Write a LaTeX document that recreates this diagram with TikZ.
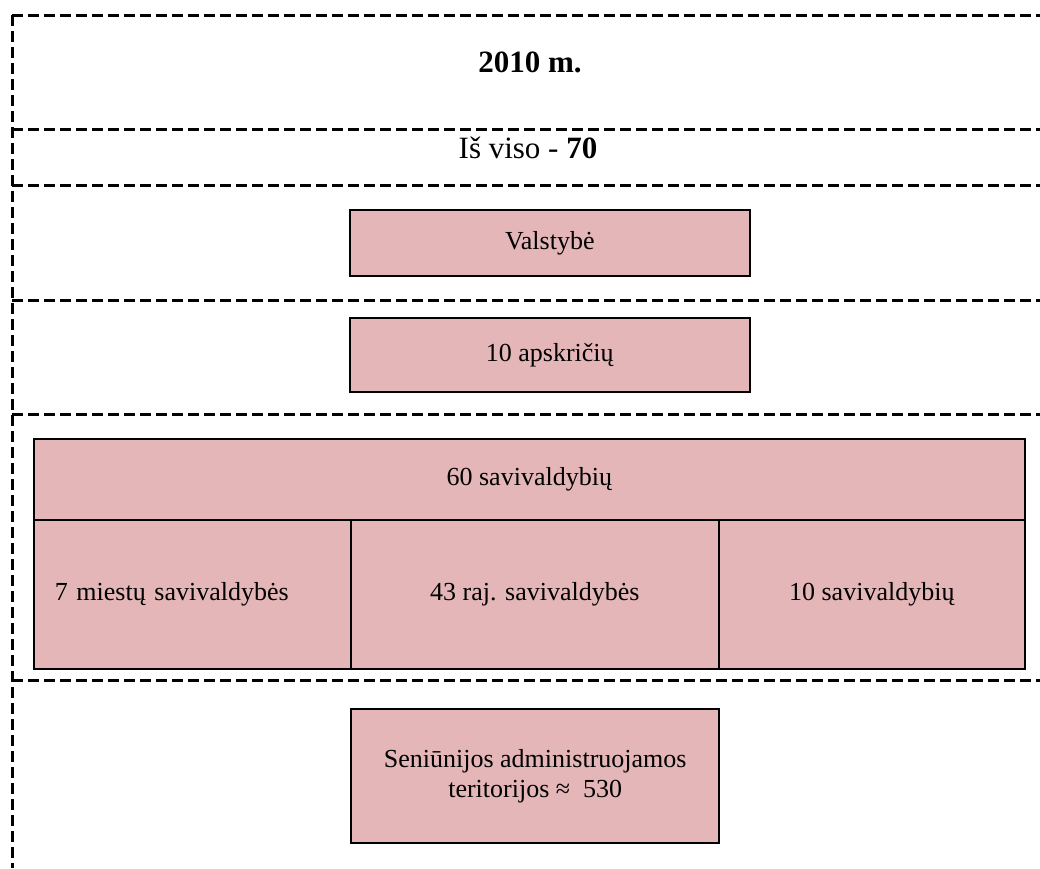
\documentclass[tikz,border=0pt]{standalone}
\usepackage{fontspec}
\setmainfont{Liberation Serif}
\definecolor{boxfill}{RGB}{228,182,183}
\begin{document}
\begin{tikzpicture}[x=1pt,y=-1pt,
  sep/.style={line width=3pt,dash pattern=on 11pt off 5pt},
  cell/.style={draw=black,fill=boxfill,line width=1.6pt,inner sep=0pt,anchor=north west,font=\fontsize{26}{30}\selectfont},
  heading/.style={font=\fontsize{31}{36}\selectfont,inner sep=0pt,anchor=base}]
\useasboundingbox (0,0) rectangle (1040,868);
% dashed separators
\coordinate (vtop) at (12,15);
\coordinate (vbot) at (12,868);
\draw[sep] (vtop) -- (vbot);
\foreach \yy in {15,129,185,300,414,680}{
  \draw[sep] (12,\yy) -- (1040,\yy);
}
% headings
\node[heading] (year) at (530,72) {\bfseries 2010 m.};
\node[heading] (total) at (528,158) {Iš viso - \textbf{70}};
% boxes
\node[cell,minimum width=400pt,minimum height=66pt] (state) at (349,209) {Valstybė};
\node[cell,minimum width=400pt,minimum height=74pt] (county) at (349,317) {10 apskričių};
\node[cell,minimum width=991pt,minimum height=81pt] (mun) at (33,438) {60 savivaldybių};
\node[cell,minimum height=149pt,text width=275pt,inner xsep=21pt,align=left] (city) at (33,519) {7 miestų savivaldybės};
\node[cell,minimum width=368pt,minimum height=149pt] (dist) at (350,519) {43 raj. savivaldybės};
\node[cell,minimum width=306pt,minimum height=149pt] (other) at (718,519) {10 savivaldybių};
\node[cell,line width=2.4pt,minimum width=368pt,minimum height=134pt,align=center] (elder) at (350,708) {Seniūnijos administruojamos\\teritorijos ≈\ \ 530};
\end{tikzpicture}
\end{document}
